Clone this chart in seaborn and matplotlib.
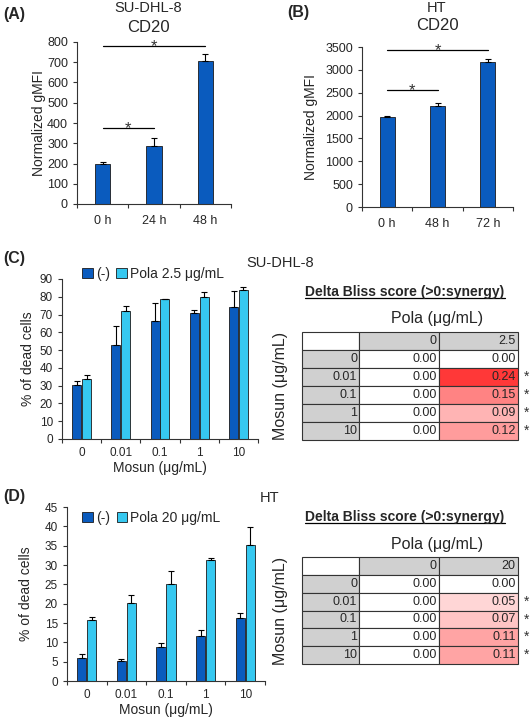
import numpy as np
import pandas as pd
import seaborn as sns
import matplotlib
matplotlib.use('Agg')
import matplotlib.pyplot as plt
from matplotlib.colors import LinearSegmentedColormap, Normalize
from matplotlib.lines import Line2D

# Datos
a_tiempos = ['0 h', '24 h', '48 h']
a_gmfi = [198, 288, 707]
a_err = [8, 38, 33]
a_sig = [(0, 1, 375), (0, 2, 778)]

b_tiempos = ['0 h', '48 h', '72 h']
b_gmfi = [1960, 2210, 3170]
b_err = [25, 70, 65]
b_sig = [(0, 1, 2560), (0, 2, 3430)]

mosun = ['0', '0.01', '0.1', '1', '10']
c_ctrl = [30.2, 52.6, 66.5, 71.0, 74.5]
c_ctrl_err = [2.5, 11.0, 9.8, 1.4, 8.5]
c_pola = [34.0, 71.8, 78.7, 79.6, 83.8]
c_pola_err = [2.2, 3.0, 0.3, 3.0, 1.5]

d_ctrl = [5.9, 5.3, 8.8, 11.6, 16.4]
d_ctrl_err = [1.0, 0.3, 0.9, 1.7, 1.2]
d_pola = [15.9, 20.3, 25.2, 31.4, 35.1]
d_pola_err = [0.7, 2.0, 3.2, 0.5, 4.6]

c_bliss = [0.00, 0.24, 0.15, 0.09, 0.12]
d_bliss = [0.00, 0.05, 0.07, 0.11, 0.11]
c_bliss_sig = [False, True, True, True, True]
d_bliss_sig = [False, True, True, True, True]

AZUL = '#0a5bbe'
CELESTE = '#36c8f0'
BORDE = '#1a1a1a'
GRIS = '#d0d0d0'

sns.set_style('ticks')
plt.rcParams['font.family'] = ['Liberation Sans', 'DejaVu Sans']

W, H = 530, 721
fig = plt.figure(figsize=(W / 100, H / 100), dpi=100)


def px_axes(l, t, r, b):
    return fig.add_axes([l / W, 1 - b / H, (r - l) / W, (b - t) / H])


def ftext(x, y, s, **kw):
    kw.setdefault('ha', 'center')
    kw.setdefault('va', 'center')
    return fig.text(x / W, 1 - y / H, s, **kw)


def barras_error(ax, contenedor, errs):
    xs = [p.get_x() + p.get_width() / 2 for p in contenedor]
    hs = [p.get_height() for p in contenedor]
    ax.errorbar(xs, hs, yerr=[np.zeros(len(errs)), errs], fmt='none',
                ecolor='black', elinewidth=0.8, capsize=2.5, capthick=0.8, zorder=1)


def estilo(ax, n, yticks, ylabel, ylab_x, tick_fs=9, xpad=8):
    sns.despine(ax=ax)
    for s in ['left', 'bottom']:
        ax.spines[s].set_linewidth(0.8)
        ax.spines[s].set_color('#333333')
    ax.set_xlim(-0.5, n - 0.5)
    ax.set_ylim(yticks[0], yticks[-1])
    ax.set_yticks(yticks)
    ax.set_xticks(np.arange(-0.5, n), minor=True)
    ax.tick_params(axis='x', which='major', length=0, pad=xpad, labelsize=tick_fs)
    ax.tick_params(axis='x', which='minor', length=3, width=0.8, direction='out', color='#333333')
    ax.tick_params(axis='y', length=3, width=0.8, direction='out', labelsize=tick_fs, color='#333333')
    ax.set_xlabel('')
    ax.set_ylabel(ylabel, fontsize=10)
    ax.yaxis.set_label_coords(ylab_x, 0.5)


def panel_simple(rect, cats, vals, errs, sig, yticks, ylab_x):
    ax = px_axes(*rect)
    df = pd.DataFrame({'cat': cats, 'val': vals})
    sns.barplot(data=df, x='cat', y='val', color=AZUL, width=0.3, saturation=1,
                edgecolor=BORDE, linewidth=0.6, errorbar=None, ax=ax)
    barras_error(ax, ax.containers[0], errs)
    for i, j, h in sig:
        ax.plot([i, j], [h, h], color='black', lw=0.9)
        ax.annotate('*', xy=((i + j) / 2, h), xytext=(0, -3.5), textcoords='offset points',
                    ha='center', va='baseline', fontsize=12, color='#333333')
    estilo(ax, len(cats), yticks, 'Normalized gMFI', ylab_x)
    return ax


def panel_doble(rect, ctrl, ctrl_err, pola, pola_err, pola_lab, yticks, ylab_x, leg_anchor):
    ax = px_axes(*rect)
    df = pd.DataFrame({
        'mosun': mosun * 2,
        'val': ctrl + pola,
        'grupo': ['(-)'] * len(mosun) + [pola_lab] * len(mosun),
    })
    sns.barplot(data=df, x='mosun', y='val', hue='grupo',
                palette={'(-)': AZUL, pola_lab: CELESTE}, width=0.5, gap=0.07,
                saturation=1, edgecolor=BORDE, linewidth=0.6, errorbar=None, ax=ax)
    barras_error(ax, ax.containers[0], ctrl_err)
    barras_error(ax, ax.containers[1], pola_err)
    estilo(ax, len(mosun), yticks, '% of dead cells', ylab_x, tick_fs=8.5, xpad=6)
    ax.set_xlabel('Mosun (μg/mL)', fontsize=10, labelpad=1)
    handles, labels = ax.get_legend_handles_labels()
    ax.legend(handles, labels, loc='upper left', bbox_to_anchor=leg_anchor, ncol=2,
              frameon=False, fontsize=10, handlelength=0.75, handleheight=0.75,
              handletextpad=0.25, columnspacing=0.45, borderaxespad=0)
    return ax


def tabla_bliss(rect, pola_conc, valores, sig, y_head, y_pola):
    l, t, r, b = rect
    ax = px_axes(*rect)
    ax.axis('off')
    cmap = LinearSegmentedColormap.from_list('bliss', ['white', '#ff3030'])
    norma = Normalize(0, 0.25)
    texto = [['', '0', pola_conc]] + [[m, '0.00', f'{v:.2f}'] for m, v in zip(mosun, valores)]
    colores = [['white', GRIS, GRIS]] + [[GRIS, cmap(norma(0.0)), cmap(norma(v))] for v in valores]
    anchos = np.array([57, 80, 79]) / 216
    tbl = ax.table(cellText=texto, cellColours=colores, colWidths=anchos,
                   cellLoc='right', bbox=[0, 0, 1, 1])
    tbl.auto_set_font_size(False)
    tbl.set_fontsize(9)
    for celda in tbl.get_celld().values():
        celda.set_edgecolor('#333333')
        celda.set_linewidth(0.8)
        celda.PAD = 0.03
    nfil = len(texto)
    for i, s in enumerate(sig):
        if s:
            ax.text(1.025, 1 - (i + 1.5) / nfil, '*', ha='left', va='center',
                    fontsize=10, color='#333333', transform=ax.transAxes)
    ftext(437, y_pola, 'Pola (μg/mL)', fontsize=11.5)
    ftext(280, (t + b) / 2, 'Mosun (μg/mL)', fontsize=11.5, rotation=90)
    cab = ftext(405, y_head, 'Delta Bliss score (>0:synergy)', fontsize=10, fontweight='bold')
    rend = fig.canvas.get_renderer()
    bb = cab.get_window_extent(rend).transformed(fig.transFigure.inverted())
    yline = bb.y0 + 1.0 / H
    fig.add_artist(Line2D([bb.x0, bb.x1], [yline, yline], color='black', lw=0.9,
                          transform=fig.transFigure))


# (A)
panel_simple((77, 42, 231, 204), a_tiempos, a_gmfi, a_err, a_sig,
             np.arange(0, 801, 100), (46 - 77) / 154)
ftext(3, 15, '(A)', ha='left', fontsize=11.5, fontweight='bold')
ftext(148, 8, 'SU-DHL-8', fontsize=10.5)
ftext(148, 27, 'CD20', fontsize=12)

# (B)
panel_simple((362, 47, 513, 207), b_tiempos, b_gmfi, b_err, b_sig,
             np.arange(0, 3501, 500), (318 - 362) / 151)
ftext(287, 12, '(B)', ha='left', fontsize=11.5, fontweight='bold')
ftext(437, 8, 'HT', fontsize=10.5)
ftext(437, 26, 'CD20', fontsize=12)

# (C)
panel_doble((62, 279, 258, 439), c_ctrl, c_ctrl_err, c_pola, c_pola_err,
            'Pola 2.5 μg/mL', np.arange(0, 91, 10), (35 - 62) / 196, (0.075, 1.11))
ftext(3, 258, '(C)', ha='left', fontsize=11.5, fontweight='bold')
ftext(280, 263, 'SU-DHL-8', fontsize=10.5)
tabla_bliss((302, 332, 518, 440), '2.5', c_bliss, c_bliss_sig, 292, 318)

# (D)
panel_doble((67, 507, 265, 681), d_ctrl, d_ctrl_err, d_pola, d_pola_err,
            'Pola 20 μg/mL', np.arange(0, 46, 5), (33 - 67) / 198, (0.05, 1.01))
ftext(3, 497, '(D)', ha='left', fontsize=11.5, fontweight='bold')
ftext(270, 498, 'HT', fontsize=10.5)
tabla_bliss((302, 557, 518, 664), '20', d_bliss, d_bliss_sig, 517, 545)

fig.savefig('out.png', dpi=100)
